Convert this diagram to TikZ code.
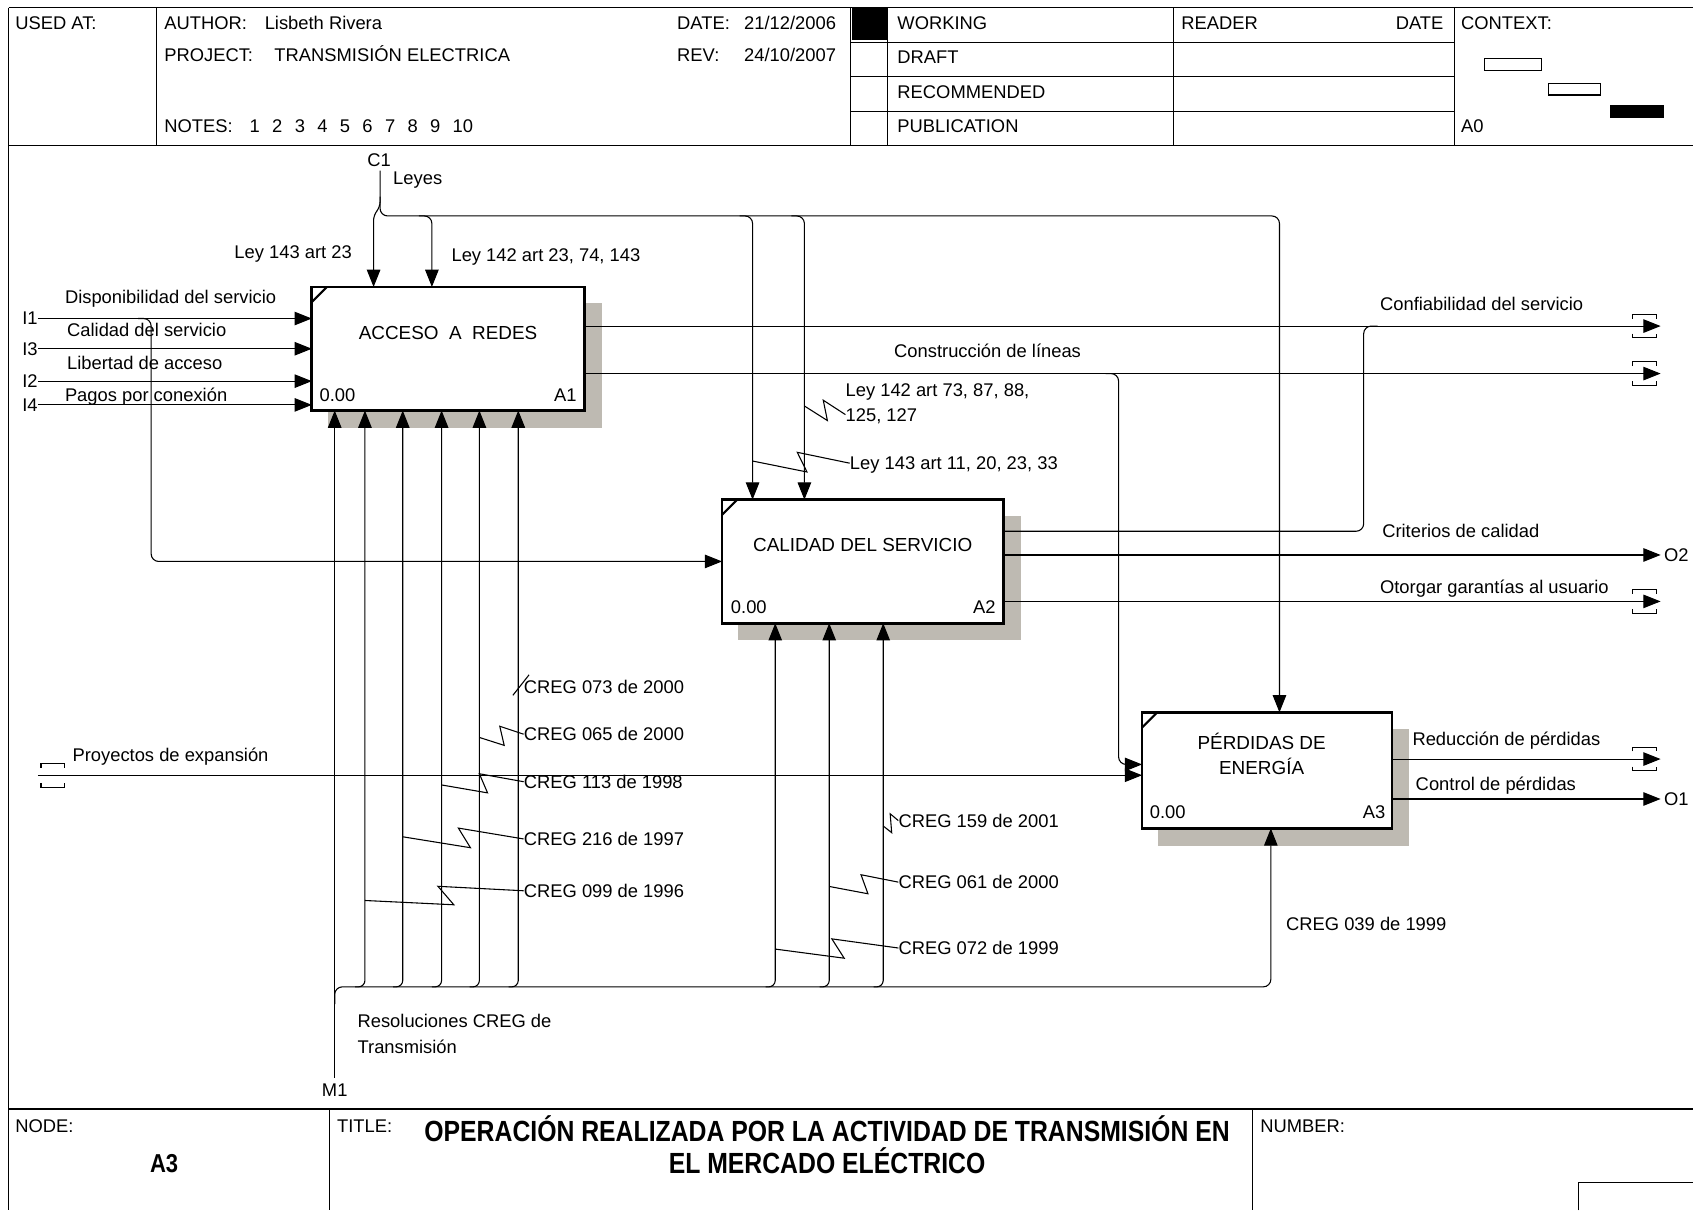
\documentclass[tikz,border=0pt]{standalone}
\usepackage{fontspec}
\setmainfont{Liberation Sans}
\newfontfamily\narrowfont[FakeStretch=0.85]{Liberation Sans}
\usetikzlibrary{arrows.meta,calc}
\definecolor{shadowgray}{RGB}{190,186,178}
% squiggle from a wire point to its label
\newcommand{\squig}[2]{\draw[line width=1pt] (#1) -- ($(#1)!0.56!(#2)+(0,9)$) -- ($(#1)!0.46!(#2)+(0,-9)$) -- (#2);}
% tunnel brackets round an arrow end
\newcommand{\tunnel}[1]{\draw[line width=1pt] ($(#1)+(-11,-7)$) -- ++(0,-4) -- ++(22,0) -- ++(0,4);
  \draw[line width=1pt] ($(#1)+(-11,7)$) -- ++(0,4) -- ++(22,0) -- ++(0,-4);}

\begin{document}
\begin{tikzpicture}[x=1pt,y=-1pt,
  lbl/.style={font=\fontsize{17}{20}\selectfont,inner sep=0pt,text height=12pt,text depth=0pt},
  boxtxt/.style={font=\fontsize{17.5}{20}\selectfont,inner sep=0pt,text height=12.5pt,text depth=0pt},
  heavy/.style={font=\narrowfont\bfseries\fontsize{27}{30}\selectfont,inner sep=0pt,text height=19.3pt,text depth=0pt},
  actbox/.style={draw,line width=2.5pt,fill=white,inner sep=0pt},
  shade/.style={fill=shadowgray},
  wire/.style={line width=1pt},
  arr/.style={wire,-{Triangle[length=16pt,width=12.5pt]}},
  grid/.style={line width=1pt}]
\useasboundingbox (0,0) rectangle (1568,1121);
% header grid
\draw[grid] (8,7) -- (1568,7);
\draw[grid] (8,135) -- (1568,135);
\draw[grid] (8,7) -- (8,1121);
\draw[grid] (145,7) -- (145,135);
\foreach \x in {788,822,1087,1347} \draw[grid] (\x,7) -- (\x,135);
\foreach \y in {39,71,103} \draw[grid] (788,\y) -- (1347,\y);
\fill (789,7) rectangle (822,37);
\draw[grid] (1375,54) rectangle (1428,65);
\draw[grid] (1434,77) rectangle (1482,88);
\fill (1491,97) rectangle (1541,109);
\node[lbl,anchor=west] (usedat) at (14,21) {USED AT:};
\node[lbl,anchor=west] (author) at (152,21) {AUTHOR:};
\node[lbl,anchor=west] (authorv) at (245,21) {Lisbeth Rivera};
\node[lbl,anchor=west] (date) at (627,21) {DATE:};
\node[lbl,anchor=west] (datev) at (689,21) {21/12/2006};
\node[lbl,anchor=west] (project) at (152,51) {PROJECT:};
\node[lbl,anchor=west] (projectv) at (254,51) {TRANSMISIÓN ELECTRICA};
\node[lbl,anchor=west] (rev) at (627,51) {REV:};
\node[lbl,anchor=west] (revv) at (689,51) {24/10/2007};
\node[lbl,anchor=west] (notes) at (152,117) {NOTES:};
\foreach \n [count=\k] in {1,...,10} \node[lbl,anchor=west] (nt\k) at (231+20.9*\k-20.9,117) {\n};
\node[lbl,anchor=west] (working) at (831,21) {WORKING};
\node[lbl,anchor=west] (draft) at (831,53) {DRAFT};
\node[lbl,anchor=west] (recom) at (831,85) {RECOMMENDED};
\node[lbl,anchor=west] (publi) at (831,117) {PUBLICATION};
\node[lbl,anchor=west] (reader) at (1094,21) {READER};
\node[lbl,anchor=east] (rdate) at (1337,21) {DATE};
\node[lbl,anchor=west] (context) at (1353,21) {CONTEXT:};
\node[lbl,anchor=west] (ctxnode) at (1353,117) {A0};
% footer
\draw[line width=1.5pt] (8,1027) -- (1568,1027);
\draw[grid] (305,1027) -- (305,1121);
\draw[grid] (1160,1027) -- (1160,1121);
\draw[grid] (1462,1121) -- (1462,1095) -- (1568,1095);
\node[lbl,anchor=west] (nodelbl) at (14,1043) {NODE:};
\node[heavy,text height=17.2pt,font=\narrowfont\bfseries\fontsize{24}{26}\selectfont] (nodev) at (152,1077) {A3};
\node[lbl,anchor=west] (titlelbl) at (312,1043) {TITLE:};
\node[heavy] (title1) at (766,1048) {OPERACIÓN REALIZADA POR LA ACTIVIDAD DE TRANSMISIÓN EN};
\node[heavy] (title2) at (766,1077) {EL MERCADO ELÉCTRICO};
\node[lbl,anchor=west] (number) at (1167,1043) {NUMBER:};
% activity boxes with shadows
\node[minimum width=252pt,minimum height=114pt,inner sep=0pt] (a1) at (415,323) {};
\node[minimum width=260pt,minimum height=114pt,inner sep=0pt] (a2) at (799,520) {};
\node[minimum width=231pt,minimum height=107pt,inner sep=0pt] (a3) at (1173.5,713.5) {};
\foreach \b in {a1,a2,a3}
  \fill[shade] ($(\b.north west)+(15,15)$) rectangle ($(\b.south east)+(16,16)$);
\foreach \b in {a1,a2,a3} {
  \draw[actbox] (\b.north west) rectangle (\b.south east);
  \draw[line width=2pt] ($(\b.north west)+(0,14)$) -- ($(\b.north west)+(14,0)$);
}
\node[boxtxt] (a1n) at ($(a1.north)+(0,42)$) {ACCESO\ \ A\ \ REDES};
\node[boxtxt] (a2n) at ($(a2.north)+(0,42)$) {CALIDAD DEL SERVICIO};
\node[boxtxt] (a3n) at ($(a3.north)+(-5,28)$) {PÉRDIDAS DE};
\node[boxtxt] (a3m) at ($(a3.north)+(-5,51)$) {ENERGÍA};
\node[lbl,anchor=west] (a1z) at ($(a1.south west)+(7,-14)$) {0.00};
\node[lbl,anchor=east] (a1c) at ($(a1.south east)+(-7,-14)$) {A1};
\node[lbl,anchor=west] (a2z) at ($(a2.south west)+(8,-15)$) {0.00};
\node[lbl,anchor=east] (a2c) at ($(a2.south east)+(-7,-15)$) {A2};
\node[lbl,anchor=west] (a3z) at ($(a3.south west)+(7,-15)$) {0.00};
\node[lbl,anchor=east] (a3c) at ($(a3.south east)+(-6,-15)$) {A3};
% inputs
\coordinate (i1) at (35,295);
\coordinate (i3) at (35,323);
\coordinate (i2) at (35,353);
\coordinate (i4) at (35,375);
\foreach \p/\t in {i1/I1,i3/I3,i2/I2,i4/I4} {
  \node[lbl,anchor=east] (\p l) at (\p) {\t};
  \draw[arr] (\p) -- (\p -| a1.west);
}
\node[lbl,anchor=west] (i1t) at (60,275) {Disponibilidad del servicio};
\node[lbl,anchor=west] (i3t) at (62,306) {Calidad del servicio};
\node[lbl,anchor=west] (i2t) at (62,336) {Libertad de acceso};
\node[lbl,anchor=west] (i4t) at (60,366) {Pagos por conexión};
\draw[arr,rounded corners=7] (128,295) -- (140,295) -- (140,0 |- a2.west) -- (a2.west);
\coordinate (i5) at (35,718);
\draw[arr] (i5) -- (i5 -| a3.west);
\tunnel{49,718}
\node[lbl,anchor=west] (i5t) at (67,699) {Proyectos de expansión};
% controls
\coordinate (c1) at (352,158);
\node[lbl] (c1l) at (351,148) {C1};
\node[lbl,anchor=west] (leyes) at (364,165) {Leyes};
\draw[arr,rounded corners=7] (c1) -- (352,200) -- (1185,200) -- (1185,0 |- a3.north);
\draw[arr,rounded corners=5] (352,182) -- (352,192) -- (346,199) -- (346,0 |- a1.north);
\draw[arr,rounded corners=7] (388,200) -- (400,200) -- (400,0 |- a1.north);
\draw[arr,rounded corners=7] (685,200) -- (697,200) -- (697,0 |- a2.north);
\draw[arr,rounded corners=7] (733,200) -- (745,200) -- (745,0 |- a2.north);
\node[lbl,anchor=east] (ley143a) at (326,233) {Ley 143 art 23};
\node[lbl,anchor=west] (ley142a) at (418,236) {Ley 142 art 23, 74, 143};
\node[lbl,anchor=west] (ley142b) at (783,361) {Ley 142 art 73, 87, 88,};
\node[lbl,anchor=west] (ley142c) at (783,384) {125, 127};
\squig{745,376}{ley142c.west}
\node[lbl,anchor=west] (ley143b) at (787,429) {Ley 143 art 11, 20, 23, 33};
\squig{697,427}{ley143b.west}
% outputs
\coordinate (t1) at (1538,302);
\coordinate (t2) at (1538,346);
\coordinate (o2) at (1538,514);
\coordinate (t3) at (1538,557);
\coordinate (t4) at (1538,703);
\coordinate (o1) at (1538,740);
\draw[arr] (a1.east |- t1) -- (t1);
\draw[arr] (a1.east |- t2) -- (t2);
\draw[arr] (a2.east |- o2) -- (o2);
\draw[arr] (a2.east |- t3) -- (t3);
\draw[arr] (a3.east |- t4) -- (t4);
\draw[arr] (a3.east |- o1) -- (o1);
\tunnel{1523,302}
\tunnel{1523,346}
\tunnel{1523,557}
\tunnel{1523,703}
\draw[wire,rounded corners=7] (a2.east |- 0,492) -- (1263,492) -- (1263,302) -- (1276,302);
\draw[arr,rounded corners=7] (1024,346) -- (1036,346) -- (1036,708) -- (a3.west |- 0,708);
\node[lbl,anchor=west] (o2l) at (1541,514) {O2};
\node[lbl,anchor=west] (o1l) at (1541,740) {O1};
\node[lbl,anchor=west] (t1t) at (1278,282) {Confiabilidad del servicio};
\node[lbl,anchor=west] (t2t) at (828,325) {Construcción de líneas};
\node[lbl,anchor=west] (o2t) at (1280,492) {Criterios de calidad};
\node[lbl,anchor=west] (t3t) at (1278,544) {Otorgar garantías al usuario};
\node[lbl,anchor=west] (t4t) at (1308,684) {Reducción de pérdidas};
\node[lbl,anchor=west] (o1t) at (1311,726) {Control de pérdidas};
% mechanisms
\coordinate (m1) at (310,998);
\node[lbl,anchor=north] (m1l) at (310,1003) {M1};
\draw[arr] (m1) -- (m1 |- a1.south);
\draw[arr,rounded corners=7] (310,930) -- (310,914) -- (1177,914) -- (1177,0 |- a3.south);
\foreach \x in {338,373,409,444,480}
  \draw[arr,rounded corners=6] (\x-9,914) -- (\x,914) -- (\x,0 |- a1.south);
\foreach \x in {718,768,818}
  \draw[arr,rounded corners=6] (\x-9,914) -- (\x,914) -- (\x,0 |- a2.south);
\node[lbl,anchor=west] (m1t) at (331,946) {Resoluciones CREG de};
\node[lbl,anchor=west] (m1u) at (331,970) {Transmisión};
\node[lbl,anchor=west] (creg039) at (1191,856) {CREG 039 de 1999};
\node[lbl,anchor=west] (creg073) at (485,636) {CREG 073 de 2000};
\draw[wire] (475,644) -- (490,625);
\node[lbl,anchor=west] (creg065) at (485,680) {CREG 065 de 2000};
\squig{444,683}{creg065.west}
\node[lbl,anchor=west] (creg113) at (485,724) {CREG 113 de 1998};
\squig{409,727}{creg113.west}
\node[lbl,anchor=west] (creg216) at (485,777) {CREG 216 de 1997};
\squig{373,775}{creg216.west}
\node[lbl,anchor=west] (creg099) at (485,825) {CREG 099 de 1996};
\squig{338,834}{creg099.west}
\node[lbl,anchor=west] (creg159) at (832,760) {CREG 159 de 2001};
\squig{818,765}{creg159.west}
\node[lbl,anchor=west] (creg061) at (832,817) {CREG 061 de 2000};
\squig{768,821}{creg061.west}
\node[lbl,anchor=west] (creg072) at (832,878) {CREG 072 de 1999};
\squig{718,879}{creg072.west}
\end{tikzpicture}
\end{document}
